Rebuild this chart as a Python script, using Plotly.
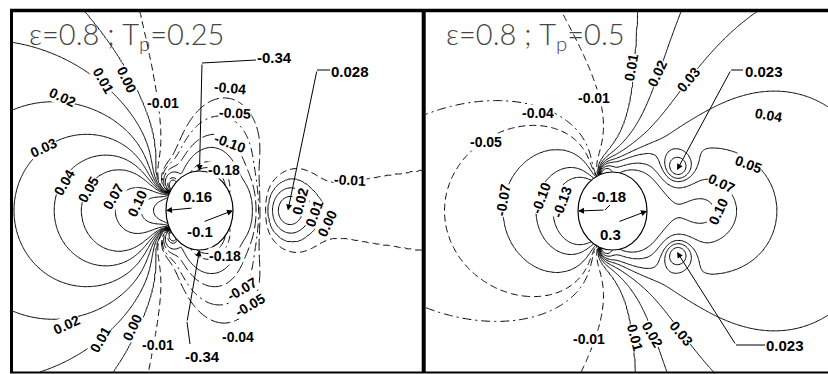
import numpy as np
import plotly.graph_objects as go

W, H = 828, 374

# ---------------------------------------------------------------------------
# Field readings, in units of the sphere radius (sphere centred at 0,0).
# Each entry: x, y, field value.  Only the upper half is listed; the field is
# symmetric about the horizontal axis.
# ---------------------------------------------------------------------------
a_readings = [
    # sphere surface
    (0.0, 1.0, -0.34), (-1.0, 0.0, 0.16), (1.0, 0.0, -0.10), (0.84, 0.545, -0.18),
    (0.5, 0.866, -0.28), (-0.94, 0.342, 0.15),
    # lines leaving the upper separation point
    (-5.60, 3.68, 0.02), (-4.16, 2.87, 0.02), (-2.67, 2.11, 0.02), (-1.78, 1.53, 0.02),
    (-3.33, 4.19, 0.01), (-2.88, 3.30, 0.01), (-2.28, 2.54, 0.01), (-1.63, 1.67, 0.01),
    (-2.43, 4.27, 0.00), (-2.16, 3.30, 0.00), (-1.78, 2.54, 0.00), (-1.33, 1.67, 0.00),
    (-1.27, 4.32, -0.01), (-1.24, 3.63, -0.01), (-1.12, 2.80, -0.01), (-1.00, 1.78, -0.01),
    (-5.57, 1.20, 0.03), (-4.67, 1.58, 0.03), (-3.72, 1.89, 0.03), (-2.67, 1.78, 0.03), (-1.63, 1.28, 0.03),
    # upstream axis
    (-4.40, 0.0, 0.04), (-3.57, 0.0, 0.05), (-2.67, 0.0, 0.07), (-1.84, 0.0, 0.10),
    # negative lobe over the sphere
    (-0.67, 1.53, -0.04), (-0.28, 2.59, -0.04), (0.22, 3.05, -0.04), (1.87, 3.00, -0.04),
    (2.16, 2.42, -0.04), (2.25, 1.53, -0.04), (2.19, 0.77, -0.04),
    (0.01, 2.47, -0.05), (1.72, 2.34, -0.05), (1.93, 1.66, -0.05), (1.96, 0.90, -0.05),
    (-0.04, 1.78, -0.10), (1.57, 1.28, -0.10), (1.60, 0.77, -0.10),
    (1.30, 0.90, -0.18), (0.46, 1.28, -0.18),
    # downstream axis and the positive island
    (1.60, 0.0, -0.07), (1.75, 0.0, -0.05), (1.87, 0.0, -0.04), (2.01, 0.0, -0.01),
    (2.10, 0.0, 0.00), (2.28, 0.0, 0.01), (2.43, 0.0, 0.02), (2.64, 0.0, 0.028),
    (3.00, 0.0, 0.02), (3.45, 0.0, 0.01), (3.84, 0.0, 0.00),
    (2.70, 1.08, 0.00), (2.70, 0.77, 0.01), (2.70, 0.44, 0.02),
    # wake edge and far field
    (2.79, 1.53, -0.01), (4.19, 0.87, -0.01), (5.30, 0.70, -0.01), (6.37, 0.57, -0.01),
    (5.50, 0.0, -0.004), (5.30, 1.10, -0.013), (6.37, 1.00, -0.013),
    (1.81, 4.32, -0.025), (5.39, 3.30, -0.02), (3.50, 4.50, -0.024),
    (3.60, 2.20, -0.025), (6.30, 2.20, -0.018), (0.50, 4.60, -0.022),
    (1.00, 3.80, -0.033), (3.00, 3.50, -0.028), (4.50, 1.80, -0.02), (5.50, 1.60, -0.017),
    (6.40, 3.60, -0.017), (6.40, 1.50, -0.016),
]

b_readings = [
    (-1.0, 0.0, -0.18), (1.0, 0.0, 0.30), (0.866, 0.5, 0.25), (0.5, 0.866, 0.17),
    (-0.866, 0.5, -0.17), (-0.643, 0.766, -0.16), (0.259, 0.966, 0.12),
    (-1.67, 0.0, -0.13), (-2.25, 0.0, -0.10), (-3.41, 0.0, -0.07), (-4.88, 0.0, -0.05),
    (-5.40, 0.0, -0.046), (-5.40, 1.50, -0.044),
    (-1.47, 0.67, -0.13), (-1.96, 0.92, -0.10), (-2.57, 1.10, -0.07),
    (-4.30, 1.95, -0.05), (-2.57, 2.03, -0.05),
    (-5.38, 2.77, -0.04), (-4.10, 3.10, -0.04), (-2.86, 2.92, -0.04), (-2.19, 2.54, -0.04), (-1.23, 1.82, -0.04),
    (-0.74, 4.13, -0.01), (-0.54, 2.90, -0.01), (-0.28, 1.82, -0.01),
    (0.86, 4.77, 0.01), (0.54, 3.64, 0.01), (0.25, 2.00, 0.01),
    (1.81, 4.95, 0.02), (1.29, 3.49, 0.02), (0.62, 2.00, 0.02),
    (3.17, 5.05, 0.03), (2.19, 3.36, 0.03), (1.03, 1.95, 0.03),
    (6.25, 1.64, 0.04), (4.57, 2.51, 0.04), (3.32, 2.67, 0.04), (2.45, 2.67, 0.04), (1.78, 2.41, 0.04), (1.49, 1.82, 0.04),
    (4.00, 1.90, 0.045), (5.50, 1.20, 0.046), (2.60, 2.00, 0.043),
    (3.90, 1.18, 0.05), (5.26, 0.15, 0.05), (5.29, 0.0, 0.05),
    (6.25, 0.0, 0.046), (6.25, 0.80, 0.044), (6.25, 2.50, 0.037),
    (3.12, 0.74, 0.07), (3.99, 0.0, 0.07),
    (1.66, 0.0, 0.10), (2.10, 0.0, 0.09), (2.65, 0.0, 0.103),
    (1.87, 1.05, 0.023),
    (-5.0, 4.6, -0.025), (6.0, 4.6, 0.035), (4.5, 4.5, 0.034), (6.2, 3.6, 0.036), (4.0, 3.6, 0.036),
]

# contour levels and their line styles
a_levels = {0.00: "solid", 0.01: "solid", 0.02: "solid", 0.03: "solid", 0.04: "solid",
            0.05: "solid", 0.07: "solid", 0.10: "solid", 0.13: "solid",
            -0.01: "7px,4px", -0.04: "12px,4px", -0.05: "9px,4px,2px,4px",
            -0.07: "12px,4px", -0.10: "solid", -0.18: "7px,4px", -0.25: "solid"}
b_levels = {0.01: "solid", 0.02: "solid", 0.03: "solid", 0.04: "solid", 0.05: "solid",
            0.07: "solid", 0.10: "solid",
            -0.01: "7px,4px", -0.04: "9px,4px,2px,4px", -0.05: "7px,4px",
            -0.07: "solid", -0.10: "solid", -0.13: "solid"}

# contour labels: text, px position, rotation
a_labels = [
    ("0.02", 62, 97, 25), ("0.01", 103, 80, 60), ("0.00", 127, 80, 65), ("-0.01", 163, 103, 0),
    ("-0.04", 230, 88, 5), ("-0.05", 235, 113, 3), ("-0.10", 230, 143, 20), ("-0.18", 224, 170, 0),
    ("0.03", 43, 148, -25), ("0.04", 64, 183, -60), ("0.05", 88, 190, -60), ("0.07", 113, 197, -60),
    ("0.10", 137, 204, -65),
    ("0.02", 66, 325, -25), ("0.01", 100, 340, -60), ("0.00", 132, 328, -65), ("-0.01", 158, 345, 0),
    ("-0.04", 238, 337, 0), ("-0.05", 250, 305, -30), ("-0.07", 242, 289, -30), ("-0.18", 225, 256, 0),
    ("0.02", 300, 202, -75), ("0.01", 314, 214, -70), ("0.00", 327, 224, -65), ("-0.01", 350, 180, 3),
]
b_labels = [
    ("-0.01", 594, 98, 0), ("0.01", 631, 68, -80), ("0.02", 657, 74, -65), ("0.03", 688, 80, -50),
    ("0.04", 768, 115, 10), ("0.05", 748, 164, 20), ("0.07", 721, 183, 25),
    ("-0.04", 538, 113, 0), ("-0.05", 486, 142, 0),
    ("-0.07", 503, 200, -80), ("-0.10", 541, 198, -70), ("-0.13", 562, 202, -70), ("0.10", 718, 212, -65),
    ("-0.01", 589, 339, 0), ("0.01", 635, 337, 75), ("0.02", 652, 334, 60), ("0.03", 681, 333, 50),
]

# point values with leader arrows: text, text px, leader px points, target (sphere units)
a_callouts = [
    ("0.16", (197, 196), [(193, 208)], (-1.0, 0.0)),
    ("-0.1", (200, 231), [(203, 222)], (1.0, 0.0)),
    ("-0.34", (274, 58), [(256, 60), (202, 63)], (0.0, 1.0)),
    ("-0.34", (202, 356), [(190, 344), (187, 322)], (0.0, -1.0)),
    ("0.028", (350, 71), [(330, 70), (317, 70)], (2.64, 0.0)),
]
b_callouts = [
    ("0.023", (764, 71), [(743, 70), (731, 70)], (1.87, 1.05)),
    ("0.023", (785, 345), [(765, 345), (736, 345)], (1.87, -1.05)),
    ("-0.18", (609, 196), [(610, 205), (605, 210)], (-1.0, 0.0)),
    ("0.3", (610, 235), [(618, 222)], (1.0, 0.0)),
]

# panel geometry in canvas px: plot area and sphere centre / radii
PANELS = {
    "a": dict(px0=13, px1=422, py0=11, py1=372, cx=199.5, cy=210.5, rx=33.5, ry=39.5,
              sep=np.radians(142), depth=0.92, ridge=1e-4, slow=False, far=1.6,
              gauss=[(2.64, 0.0, 0.75, 0.9), (1.35, 0.0, 0.4, 0.7)], wake=True,
              title="\u03b5=0.8 ; T<sub>p</sub>=0.25", tx=27),
    "b": dict(px0=426, px1=828, py0=11, py1=372, cx=612.5, cy=211.0, rx=34.5, ry=39.0,
              sep=np.radians(103), depth=0.84, ridge=4e-4, slow=True, far=2.5,
              gauss=[(2.65, 0.0, 0.9, 0.75), (1.87, 1.05, 0.5, 0.45)], wake=False,
              title="\u03b5=0.8 ; T<sub>p</sub>=0.5", tx=444),
}


def basis(x, y, p):
    r = np.maximum(np.hypot(x, y), 0.5)
    c, s = x / r, y / r
    c2 = c * c - s * s
    c3 = c * (4 * c * c - 3)
    cols = [np.ones_like(r), 1 / r, c / r, c / r**2, c2 / r**2, c2 / r**3, 1 / r**3, c3 / r**3, c2 / r]
    if p["slow"]:
        cols += [c / np.sqrt(r), c2 / np.sqrt(r), 1 / np.sqrt(r)]
    ex, ey = p["depth"] * np.cos(p["sep"]), p["depth"] * np.sin(p["sep"])
    dx, d1, d2 = x - ex, y - ey, y + ey
    q1 = np.maximum(dx * dx + d1 * d1, 1e-3)
    q2 = np.maximum(dx * dx + d2 * d2, 1e-3)
    cols.append(dx / q1 + dx / q2)
    cols.append(d1 / q1 - d2 / q2)
    for gx, gy, sx, sy in p["gauss"]:
        g = np.exp(-((x - gx) / sx) ** 2 - ((y - gy) / sy) ** 2)
        if gy:
            g = g + np.exp(-((x - gx) / sx) ** 2 - ((y + gy) / sy) ** 2)
        cols.append(g)
    if p["wake"]:
        xs = np.clip(x, 0, None)
        cols.append(np.exp(-(y / (0.4 + 0.06 * xs)) ** 2) / (1 + np.exp(-2.5 * (x - 2.2))))
    return np.stack(cols, axis=-1)


def fit_field(readings, p):
    arr = np.array(readings, dtype=float)
    sx, sy, sv = arr[:, 0], arr[:, 1], arr[:, 2]
    A = basis(sx, sy, p)
    scale = np.sqrt((A**2).mean(0)) + 1e-12
    w = 1.0 / (0.012 + np.abs(sv)) * np.where(np.hypot(sx, sy) > 3, p["far"], 1.0)
    An = A / scale * w[:, None]
    coef = np.linalg.solve(An.T @ An + p["ridge"] * np.eye(A.shape[1]), An.T @ (sv * w))
    return coef / scale


def grouped(z, levels):
    lv = np.sort(np.array(levels))
    d0 = lv[1] - lv[0] if len(lv) > 1 else 0.01
    d1 = lv[-1] - lv[-2] if len(lv) > 1 else 0.01
    xp = np.concatenate([[lv[0] - d0], lv, [lv[-1] + d1]])
    fp = np.arange(-1, len(lv) + 1, dtype=float)
    out = np.interp(np.nan_to_num(z, nan=0.0), xp, fp)
    out[np.isnan(z)] = np.nan
    return np.round(out, 3), len(lv)


fig = go.Figure()
shapes, annotations = [], []


def paper(px, py):
    return px / W, 1 - py / H


for i, (key, readings, levels, labels, callouts) in enumerate([
        ("a", a_readings, a_levels, a_labels, a_callouts),
        ("b", b_readings, b_levels, b_labels, b_callouts)]):
    p = PANELS[key]
    xa, ya = ("x", "y") if i == 0 else ("x2", "y2")
    xr = [(p["px0"] - p["cx"]) / p["rx"], (p["px1"] - p["cx"]) / p["rx"]]
    yr = [(p["cy"] - p["py1"]) / p["ry"], (p["cy"] - p["py0"]) / p["ry"]]

    coef = fit_field(readings, p)
    gx = np.linspace(xr[0], xr[1], 330)
    gy = np.linspace(yr[0], yr[1], 300)
    X, Y = np.meshgrid(gx, gy)
    Z = basis(X, Y, p) @ coef
    Z[np.hypot(X, Y) < 0.985] = np.nan

    styles = {}
    for lev, dash in levels.items():
        styles.setdefault(dash, []).append(lev)
    for dash, levs in styles.items():
        zz, n = grouped(Z, levs)
        fig.add_trace(go.Contour(
            x=gx, y=gy, z=zz, xaxis=xa, yaxis=ya,
            contours=dict(start=0, end=n - 1, size=1, coloring="none", showlabels=False),
            line=dict(color="black", width=1, dash=dash, smoothing=1),
            showscale=False, hoverinfo="skip"))

    # sphere
    shapes.append(dict(type="circle", xref=xa, yref=ya, x0=-1, x1=1, y0=-1, y1=1,
                       line=dict(color="black", width=1.2), fillcolor="white", layer="above"))

    ax_key = "xaxis" if i == 0 else "xaxis2"
    ay_key = "yaxis" if i == 0 else "yaxis2"
    fig.layout[ax_key] = dict(domain=[p["px0"] / W, p["px1"] / W], range=xr, visible=False,
                              fixedrange=True)
    fig.layout[ay_key] = dict(domain=[1 - p["py1"] / H, 1 - p["py0"] / H], range=yr, visible=False,
                              fixedrange=True)

    for text, px, py, ang in labels:
        xp, yp = paper(px, py)
        annotations.append(dict(x=xp, y=yp, xref="paper", yref="paper", text="<b>%s</b>" % text,
                                xanchor="center", yanchor="middle",
                                showarrow=False, textangle=ang, bgcolor="white", borderpad=0,
                                font=dict(family="Liberation Sans", size=14, color="black")))

    for text, (tx, ty), leader, (dx, dy) in callouts:
        xp, yp = paper(tx, ty)
        annotations.append(dict(x=xp, y=yp, xref="paper", yref="paper", text="<b>%s</b>" % text,
                                xanchor="center", yanchor="middle", showarrow=False,
                                font=dict(family="Liberation Sans", size=15, color="black")))
        for (x0, y0), (x1, y1) in zip(leader[:-1], leader[1:]):
            a0, b0 = paper(x0, y0)
            a1, b1 = paper(x1, y1)
            shapes.append(dict(type="line", xref="paper", yref="paper", x0=a0, y0=b0, x1=a1, y1=b1,
                               line=dict(color="black", width=1), layer="above"))
        tip_px = p["cx"] + dx * p["rx"]
        tip_py = p["cy"] - dy * p["ry"]
        lx, ly = leader[-1]
        annotations.append(dict(x=dx, y=dy, xref=xa, yref=ya, axref="pixel", ayref="pixel",
                                ax=lx - tip_px, ay=ly - tip_py, text="", showarrow=True,
                                arrowhead=2, arrowsize=1.2, arrowwidth=1, arrowcolor="black"))

    xp, yp = paper(p["tx"], 35)
    annotations.append(dict(x=xp, y=yp, xref="paper", yref="paper", text=p["title"], showarrow=False,
                            xanchor="left", yanchor="middle",
                            font=dict(family="Lato", size=29, color="#444", weight=300)))

# frame
for (x0, y0, x1, y1, lw) in [(10, 10.5, 828, 10.5, 3.5), (11.5, 9, 11.5, 373, 3),
                             (423.7, 9, 423.7, 373, 4), (10, 372.5, 828, 372.5, 2)]:
    a0, b0 = paper(x0, y0)
    a1, b1 = paper(x1, y1)
    shapes.append(dict(type="line", xref="paper", yref="paper", x0=a0, y0=b0, x1=a1, y1=b1,
                       line=dict(color="black", width=lw), layer="above"))

fig.update_layout(width=W, height=H, margin=dict(l=0, r=0, t=0, b=0),
                  paper_bgcolor="white", plot_bgcolor="white", showlegend=False,
                  shapes=shapes, annotations=annotations)
fig.write_html("out.html", include_plotlyjs=True, config={"staticPlot": True})
